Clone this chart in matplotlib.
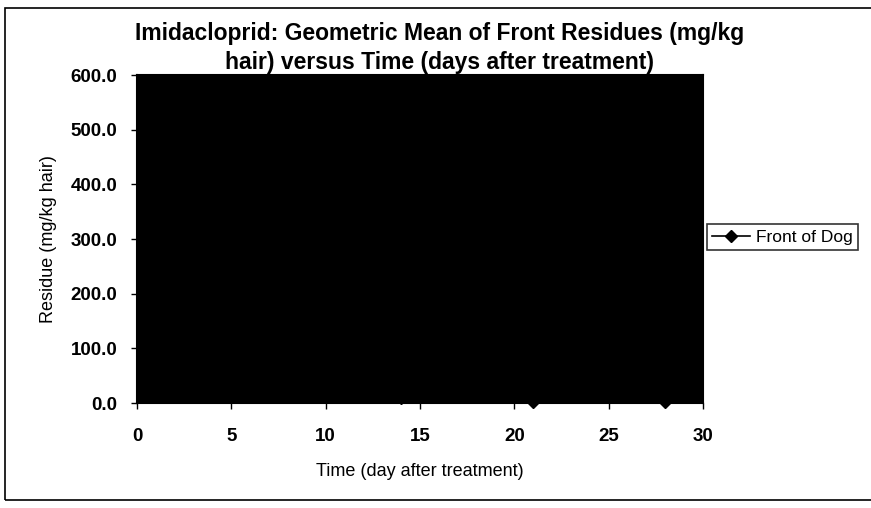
import matplotlib
matplotlib.use("Agg")
import matplotlib.pyplot as plt
from matplotlib.patches import Rectangle

plt.rcParams['font.family'] = ['Liberation Sans', 'DejaVu Sans']

# Data
days = [1, 4, 7, 14, 21, 28]
residue = [560.0, 510.0, 80.0, 10.0, 2.0, 1.0]
series_name = "Front of Dog"
title = "Imidacloprid: Geometric Mean of Front Residues (mg/kg\nhair) versus Time (days after treatment)"
xlabel = "Time (day after treatment)"
ylabel = "Residue (mg/kg hair)"
xticks = [0, 5, 10, 15, 20, 25, 30]
yticks = [0, 100, 200, 300, 400, 500, 600]

W, H = 871, 508
fig = plt.figure(figsize=(W / 100, H / 100), dpi=100)
fig.patch.set_facecolor("white")

# outer chart border
fig.patches.append(Rectangle((5 / W, 1 - 500 / H), 1.2, (500 - 8) / H,
                             transform=fig.transFigure, fill=False,
                             edgecolor="black", linewidth=1.2))

left, right, top, bottom = 137, 703, 75, 403
ax = fig.add_axes([left / W, 1 - bottom / H, (right - left) / W, (bottom - top) / H])
ax.set_facecolor("#000000")

ax.plot(days, residue, color="black", marker="D", markersize=6,
        linewidth=1.2, label=series_name, clip_on=False, zorder=5)

ax.set_xlim(0, 30)
ax.set_ylim(0, 600)
ax.set_xticks(xticks)
ax.set_xticklabels([str(t) for t in xticks], fontsize=13.5, fontweight="bold")
ax.set_yticks(yticks)
ax.set_yticklabels([f"{t:.1f}" for t in yticks], fontsize=13.5, fontweight="bold")
ax.tick_params(axis="x", direction="out", length=4, width=1, color="black", pad=14)
ax.tick_params(axis="y", direction="out", length=4, width=1, color="black", pad=10)
for s in ax.spines.values():
    s.set_color("black")
    s.set_linewidth(1.5)

ax.set_xlabel(xlabel, fontsize=13, labelpad=13)
ax.set_ylabel(ylabel, fontsize=13, labelpad=10)

fig.text(0.505, 1 - 48 / H, title, ha="center", va="center",
         fontsize=16.5, fontweight="bold", linespacing=1.3)

leg = fig.legend(loc="center left", bbox_to_anchor=(707 / W, 1 - 237 / H),
                 fontsize=12.5, frameon=True, fancybox=False, borderpad=0.3,
                 handlelength=2.2, handletextpad=0.3, borderaxespad=0.0)
leg.get_frame().set_edgecolor("black")
leg.get_frame().set_linewidth(1.2)

fig.savefig("out.png", dpi=100)
